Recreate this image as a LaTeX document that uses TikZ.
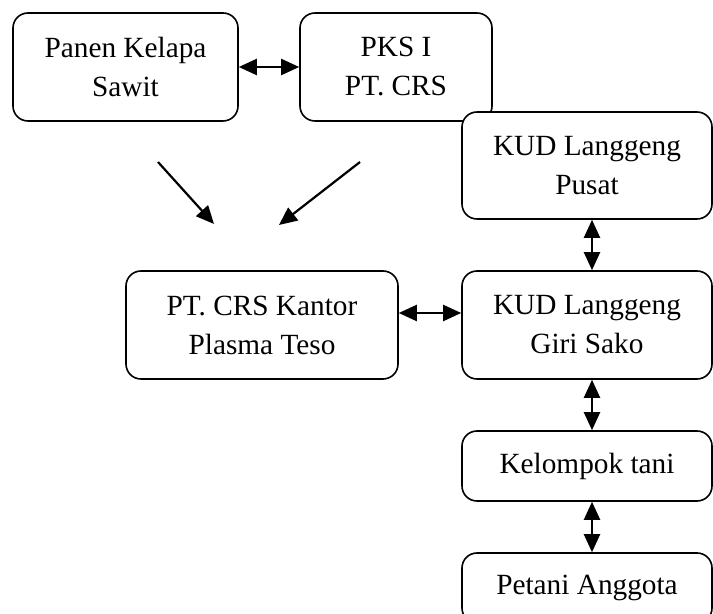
\documentclass[tikz,border=0pt]{standalone}
\usepackage{fontspec}
\setmainfont{Liberation Serif}
\usetikzlibrary{arrows.meta}

\tikzset{
  box/.style={draw, line width=0.8pt, rounded corners=7.5pt, fill=white, align=center,
    inner sep=0pt, font=\fontsize{14.65pt}{19.5pt}\selectfont},
  link/.style={line width=1.1pt, {Triangle[length=9pt,width=8pt]}-{Triangle[length=9pt,width=8pt]}},
  flow/.style={line width=1.1pt, -{Triangle[length=9pt,width=8pt]}}
}

\begin{document}
\begin{tikzpicture}[x=0.5pt,y=-0.5pt]
                \useasboundingbox (0,0) rectangle (713,614);
                \clip (0,0) rectangle (713,614);
                % top row
                \node[box, minimum width=112.5pt, minimum height=54pt] (panen) at (125.5,67) {Panen Kelapa\\Sawit};
                \node[box, minimum width=96pt, minimum height=54pt] (pks) at (396,67) {PKS I\\PT. CRS};
                \node[box, minimum width=125pt, minimum height=53.5pt] (pusat) at (587,165.5) {KUD Langgeng\\Pusat};
                % middle row
                \node[box, minimum width=136pt, minimum height=54pt] (kantor) at (262,325) {PT. CRS Kantor\\Plasma Teso};
                \node[box, minimum width=125pt, minimum height=54pt] (giri) at (587,325) {KUD Langgeng\\Giri Sako};
                % bottom column
                \node[box, minimum width=125pt, minimum height=35pt] (kelompok) at (587,466) {Kelompok tani};
                \node[box, minimum width=125pt, minimum height=35pt] (petani) at (587,588) {Petani Anggota};

                \coordinate (panenout) at (158,162);
                \coordinate (kantorin1) at (214,224);
                \coordinate (pksout) at (360,162);
                \coordinate (kantorin2) at (279,225);

                \draw[link] (panen.east) -- (pks.west);
                \draw[flow] (panenout) -- (kantorin1);
                \draw[flow] (pksout) -- (kantorin2);
                \draw[link] ([yshift=6pt]kantor.east) -- ([yshift=6pt]giri.west);
                \draw[link] ([xshift=2.5pt]pusat.south) -- ([xshift=2.5pt]giri.north);
                \draw[link] ([xshift=2.5pt]giri.south) -- ([xshift=2.5pt]kelompok.north);
                \draw[link] ([xshift=2.5pt]kelompok.south) -- ([xshift=2.5pt]petani.north);
\end{tikzpicture}
\end{document}
